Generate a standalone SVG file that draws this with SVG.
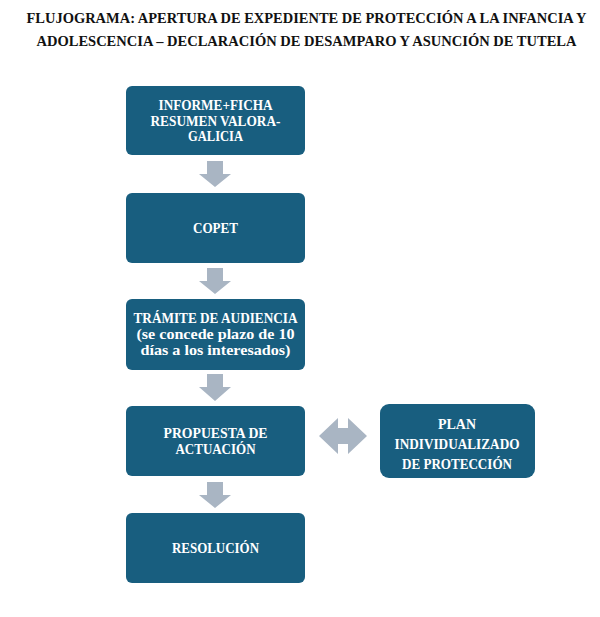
<svg xmlns="http://www.w3.org/2000/svg" width="600" height="617" viewBox="0 0 600 617">
<defs>
<style>
.box{fill:#185E7F;}
.arr{fill:#A9B5C3;}
.t{font-family:"Liberation Serif","DejaVu Serif",serif;font-weight:bold;font-size:14.5px;fill:#FFFFFF;text-anchor:middle;}
.title{font-family:"Liberation Serif","DejaVu Serif",serif;font-weight:bold;font-size:14.5px;fill:#111111;text-anchor:middle;}
</style>
</defs>
<rect width="600" height="617" fill="#FFFFFF"/>
<g id="title">
<text class="title" x="306.5" y="23" textLength="560" lengthAdjust="spacingAndGlyphs">FLUJOGRAMA: APERTURA DE EXPEDIENTE DE PROTECCIÓN A LA INFANCIA Y</text>
<text class="title" x="306.5" y="46" textLength="540" lengthAdjust="spacingAndGlyphs">ADOLESCENCIA – DECLARACIÓN DE DESAMPARO Y ASUNCIÓN DE TUTELA</text>
</g>
<g id="connectors">
<polygon class="arr" points="207,161 223,161 223,174 231,174 215,187 199,174 207,174"/>
<polygon class="arr" points="207,268 223,268 223,281 231,281 215,294 199,281 207,281"/>
<polygon class="arr" points="207,374 223,374 223,387 231,387 215,401 199,387 207,387"/>
<polygon class="arr" points="207,482 223,482 223,495 231,495 215,508 199,495 207,495"/>
<polygon class="arr" points="319,436 338,418 338,428 348,428 348,418 367,436 348,454 348,444 338,444 338,454"/>
</g>
<g id="node1">
<rect class="box" x="126" y="86" width="179" height="69" rx="6"/>
<text class="t" x="215.5" y="110" textLength="114" lengthAdjust="spacingAndGlyphs">INFORME+FICHA</text>
<text class="t" x="215.5" y="126" textLength="130" lengthAdjust="spacingAndGlyphs">RESUMEN VALORA-</text>
<text class="t" x="215.5" y="141" textLength="55" lengthAdjust="spacingAndGlyphs">GALICIA</text>
</g>
<g id="node2">
<rect class="box" x="126" y="193" width="179" height="70" rx="6"/>
<text class="t" x="215.5" y="233" textLength="45" lengthAdjust="spacingAndGlyphs">COPET</text>
</g>
<g id="node3">
<rect class="box" x="126" y="299" width="179" height="71" rx="6"/>
<text class="t" x="215.5" y="323" textLength="164" lengthAdjust="spacingAndGlyphs">TRÁMITE DE AUDIENCIA</text>
<text class="t" x="215.5" y="339" textLength="158" lengthAdjust="spacingAndGlyphs">(se concede plazo de 10</text>
<text class="t" x="215.5" y="355" textLength="150" lengthAdjust="spacingAndGlyphs">días a los interesados)</text>
</g>
<g id="node4">
<rect class="box" x="126" y="406" width="179" height="70" rx="6"/>
<text class="t" x="215.5" y="438" textLength="104" lengthAdjust="spacingAndGlyphs">PROPUESTA DE</text>
<text class="t" x="215.5" y="454" textLength="80" lengthAdjust="spacingAndGlyphs">ACTUACIÓN</text>
</g>
<g id="node5">
<rect class="box" x="380" y="404" width="155" height="74" rx="9"/>
<text class="t" x="457" y="429" textLength="38" lengthAdjust="spacingAndGlyphs">PLAN</text>
<text class="t" x="457" y="449" textLength="125" lengthAdjust="spacingAndGlyphs">INDIVIDUALIZADO</text>
<text class="t" x="457" y="469" textLength="110" lengthAdjust="spacingAndGlyphs">DE PROTECCIÓN</text>
</g>
<g id="node6">
<rect class="box" x="126" y="513" width="179" height="70" rx="6"/>
<text class="t" x="215.5" y="553" textLength="87" lengthAdjust="spacingAndGlyphs">RESOLUCIÓN</text>
</g>
</svg>
